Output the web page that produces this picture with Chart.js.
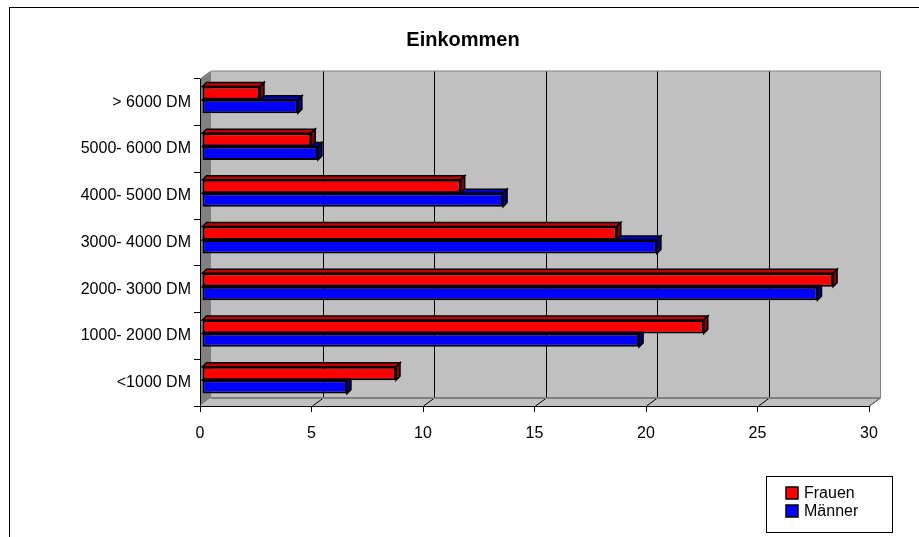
<!DOCTYPE html>
<html>
<head>
<meta charset="utf-8">
<script src="https://cdn.jsdelivr.net/npm/chart.js@4/dist/chart.umd.min.js"></script>
<style>
  html, body { margin: 0; padding: 0; background: #fff; }
  canvas { display: block; }
</style>
</head>
<body>
<canvas id="c" width="919" height="537"></canvas>
<script>
// Einkommen nach Geschlecht (Anteile in %)
const categories = ['<1000 DM', '1000- 2000 DM', '2000- 3000 DM', '3000- 4000 DM', '4000- 5000 DM', '5000- 6000 DM', '> 6000 DM'];
const frauen  = [8.7, 22.5, 28.3, 18.6, 11.6, 4.9, 2.6];
const maenner = [6.5, 19.6, 27.6, 20.4, 13.5, 5.2, 4.3];
const xTicks  = [0, 5, 10, 15, 20, 25, 30];
const titleText = 'Einkommen';

const FONT = '"Liberation Sans", Arial, sans-serif';
const wallDepth = { dx: 11, dy: -8 };   // depth of the walls
const barDepth  = { dx: 4,  dy: -4 };   // depth of each bar
const barShift  = { dx: 2,  dy: -2.5 }; // bars sit a little behind the front plane

function poly(ctx, pts, fill, stroke, lw) {
  ctx.beginPath();
  ctx.moveTo(pts[0][0], pts[0][1]);
  for (let i = 1; i < pts.length; i++) ctx.lineTo(pts[i][0], pts[i][1]);
  ctx.closePath();
  if (fill) { ctx.fillStyle = fill; ctx.fill(); }
  if (stroke) { ctx.strokeStyle = stroke; ctx.lineWidth = lw || 1; ctx.stroke(); }
}

function shade(hex, f) {
  const n = parseInt(hex.slice(1), 16);
  const r = Math.round(((n >> 16) & 255) * f), g = Math.round(((n >> 8) & 255) * f), b = Math.round((n & 255) * f);
  return `rgb(${r},${g},${b})`;
}

// background, frame, title, walls and floor of the 3D plot
const wallsPlugin = {
  id: 'walls',
  beforeDraw(chart) {
    const { ctx, chartArea: a, scales: { x } } = chart;
    const { dx, dy } = wallDepth;
    ctx.save();
    ctx.fillStyle = '#fff';
    ctx.fillRect(0, 0, chart.width, chart.height);

    ctx.strokeStyle = '#000';
    ctx.lineWidth = 1;
    ctx.strokeRect(9.5, 7.5, chart.width + 20, chart.height + 20);

    ctx.fillStyle = '#000';
    ctx.font = 'bold 20px ' + FONT;
    ctx.textAlign = 'center';
    ctx.textBaseline = 'middle';
    ctx.fillText(titleText, 463, 40);

    const L = a.left, R = a.right, T = a.top, B = a.bottom;
    // back wall
    poly(ctx, [[L + dx, T + dy], [R + dx, T + dy], [R + dx, B + dy], [L + dx, B + dy]], '#c0c0c0');
    // left wall
    poly(ctx, [[L, T], [L + dx, T + dy], [L + dx, B + dy], [L, B]], '#808080');
    // floor
    poly(ctx, [[L, B], [L + dx, B + dy], [R + dx, B + dy], [R, B]], '#c0c0c0');

    // grid lines on the back wall and on the floor
    ctx.strokeStyle = '#000';
    ctx.lineWidth = 1;
    xTicks.forEach(v => {
      const px = Math.round(x.getPixelForValue(v)) + 0.5;
      if (v > xTicks[0] && v < xTicks[xTicks.length - 1]) {
        ctx.beginPath();
        ctx.moveTo(px + dx, T + dy);
        ctx.lineTo(px + dx, B + dy);
        ctx.stroke();
      }
      if (v > xTicks[0]) {
        ctx.beginPath();
        ctx.moveTo(px, B);
        ctx.lineTo(px + dx, B + dy);
        ctx.stroke();
      }
    });

    // wall edges
    ctx.strokeStyle = '#808080';
    ctx.lineWidth = 1;
    ctx.beginPath();
    ctx.moveTo(L, T);
    ctx.lineTo(L + dx, T + dy);
    ctx.lineTo(R + dx + 0.5, T + dy);
    ctx.lineTo(R + dx + 0.5, B + dy);
    ctx.lineTo(R, B);
    ctx.stroke();
    ctx.lineWidth = 2;
    ctx.beginPath();
    ctx.moveTo(L + dx, B + dy);
    ctx.lineTo(R + dx, B + dy);
    ctx.stroke();
    ctx.restore();
  }
};

// top and end faces of each bar, then the legend
const barsPlugin = {
  id: 'bars3d',
  beforeDatasetsDraw(chart) {
    const { ctx } = chart;
    const { dx, dy } = barDepth;
    ctx.save();
    ctx.translate(barShift.dx, barShift.dy);
    for (let d = chart.data.datasets.length - 1; d >= 0; d--) {
      const ds = chart.data.datasets[d];
      const meta = chart.getDatasetMeta(d);
      meta.data.forEach(bar => {
        const { x, y, base, height } = bar.getProps(['x', 'y', 'base', 'height'], true);
        const top = y - height / 2, bot = y + height / 2;
        // top face
        poly(ctx, [[base, top], [base + dx, top + dy], [x + dx, top + dy], [x, top]], shade(ds.backgroundColor, 0.75), '#000', 1.5);
        // end face
        poly(ctx, [[x, top], [x + dx, top + dy], [x + dx, bot + dy], [x, bot]], shade(ds.backgroundColor, 0.5), '#000', 1.5);
      });
    }
  },
  afterDatasetsDraw(chart) {
    chart.ctx.restore();
  },
  afterDraw(chart) {
    const { ctx } = chart;
    ctx.save();
    ctx.strokeStyle = '#000';
    ctx.lineWidth = 1;
    ctx.strokeRect(766.5, 476.5, 126, 56);
    ctx.font = '16px ' + FONT;
    ctx.textAlign = 'left';
    ctx.textBaseline = 'middle';
    chart.data.datasets.forEach((ds, i) => {
      const yy = 493 + i * 18;
      ctx.fillStyle = ds.backgroundColor;
      ctx.fillRect(786, yy - 6, 12, 12);
      ctx.lineWidth = 1.5;
      ctx.strokeRect(786, yy - 6, 12, 12);
      ctx.fillStyle = '#000';
      ctx.fillText(ds.label, 804, yy + 1);
    });
    ctx.restore();
  }
};

new Chart(document.getElementById('c'), {
  type: 'bar',
  data: {
    labels: categories,
    datasets: [
      { label: 'Frauen', data: frauen,  backgroundColor: '#ff0000', borderColor: '#000', borderWidth: 2, borderSkipped: false },
      { label: 'Männer', data: maenner, backgroundColor: '#0000ff', borderColor: '#000', borderWidth: 2, borderSkipped: false }
    ]
  },
  options: {
    responsive: false,
    animation: false,
    indexAxis: 'y',
    clip: false,
    layout: { padding: { left: 0, right: 50, top: 79, bottom: 0 } },
    datasets: { bar: { barPercentage: 1, categoryPercentage: 0.575 } },
    plugins: { legend: { display: false }, title: { display: false }, tooltip: { enabled: false } },
    scales: {
      x: {
        min: xTicks[0], max: xTicks[xTicks.length - 1],
        afterBuildTicks(s) { s.ticks = xTicks.map(v => ({ value: v })); },
        afterFit(s) { s.height = 131; },
        ticks: { color: '#000', font: { family: FONT, size: 16 }, padding: 12, maxRotation: 0 },
        grid: { drawOnChartArea: false, tickLength: 6, color: '#000' },
        border: { color: '#000', width: 1 }
      },
      y: {
        reverse: true,
        afterFit(s) { s.width = 200; },
        ticks: { color: '#000', font: { family: FONT, size: 16 }, padding: 3 },
        grid: { drawOnChartArea: false, tickLength: 6, color: '#000', offset: true },
        border: { color: '#000', width: 1 }
      }
    }
  },
  plugins: [wallsPlugin, barsPlugin]
});
</script>
</body>
</html>
